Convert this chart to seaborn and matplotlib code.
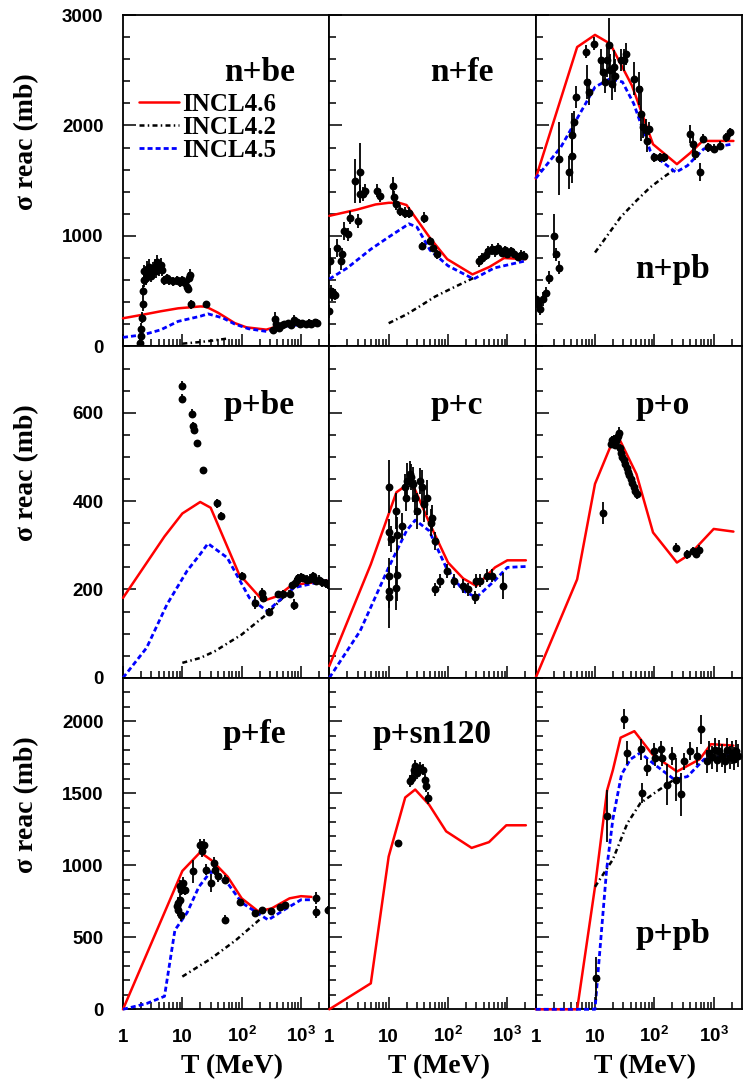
import matplotlib
matplotlib.use("Agg")
import matplotlib.pyplot as plt
from matplotlib.lines import Line2D
from matplotlib.ticker import FixedLocator, FixedFormatter, MultipleLocator, NullFormatter
import seaborn as sns

# ---------------------------------------------------------------- data
# Reaction cross sections (mb) vs kinetic energy T (MeV)

# n + Be
nbe_T = [1.95, 2.0, 2.05, 2.1, 2.15, 2.2, 2.25, 2.3, 2.4, 2.5, 2.6, 2.7, 2.8, 3.0, 3.2, 3.4, 3.6, 3.8,
         4.0, 4.3, 4.6, 5.0, 5.5, 6.0, 7.0, 8.0, 9.0, 10.0, 11.0, 12.0, 12.5, 13.0, 13.5, 14.0, 25.0,
         340, 360, 380, 420, 470, 520, 600, 680, 760, 850, 950, 1050, 1200, 1350, 1500, 1700, 1850]
nbe_sig = [30, 90, 160, 260, 380, 500, 600, 680, 620, 700, 650, 720, 680, 640, 700, 720, 680, 760,
           700, 740, 690, 600, 620, 600, 590, 600, 580, 600, 570, 540, 520, 620, 650, 380, 380,
           150, 250, 200, 170, 190, 200, 210, 190, 240, 220, 200, 210, 200, 215, 205, 220, 215]
nbe_err = [40, 40, 50, 50, 60, 60, 60, 60, 60, 70, 60, 70, 60, 60, 60, 70, 60, 70,
           60, 60, 50, 40, 40, 40, 40, 40, 40, 40, 40, 40, 40, 50, 50, 40, 30,
           30, 60, 30, 30, 30, 30, 30, 30, 40, 30, 30, 30, 30, 30, 30, 30, 30]
nbe_46_T = [1, 2.2, 4.3, 8.5, 20, 25, 40, 76, 120, 260, 400, 800, 1850]
nbe_46 = [255, 288, 318, 345, 362, 360, 305, 212, 173, 152, 182, 205, 212]
nbe_42_T = [10, 20, 35, 55]
nbe_42 = [25, 40, 55, 70]
nbe_45_T = [1, 2.2, 4.3, 8.5, 20, 27, 48, 76, 130, 260, 490, 1850]
nbe_45 = [82, 106, 150, 227, 273, 295, 258, 203, 160, 136, 182, 210]

# n + Fe
nfe_T = [1.0, 1.02, 1.05, 1.1, 1.15, 1.25, 1.35, 1.55, 1.65, 1.8, 2.05, 2.2, 2.75, 3.0, 3.3, 3.35,
         3.7, 4.0, 6.3, 7.2, 12.0, 12.3, 13.5, 15.3, 18.9, 22.0, 37.0, 40.0, 49.0, 56.0, 64.0,
         330, 380, 430, 480, 550, 620, 700, 800, 900, 1000, 1150, 1300, 1500, 1700, 1900]
nfe_sig = [318, 773, 500, 470, 480, 470, 894, 773, 833, 1045, 1015, 1167, 1500, 1136, 1575, 1380,
           1380, 1410, 1410, 1364, 1455, 1350, 1288, 1227, 1212, 1212, 909, 1167, 955, 894, 833,
           770, 800, 830, 860, 880, 860, 890, 850, 870, 840, 860, 840, 810, 830, 820]
nfe_err = [60, 120, 60, 60, 50, 50, 80, 80, 60, 80, 60, 60, 200, 60, 270, 80,
           60, 60, 60, 60, 80, 60, 50, 50, 50, 50, 40, 50, 40, 40, 40,
           50, 50, 50, 50, 50, 50, 50, 40, 40, 40, 40, 40, 40, 40, 40]
nfe_46_T = [1, 3, 6, 10, 15, 20, 28, 50, 97, 258, 500, 880, 2050]
nfe_46 = [1182, 1240, 1285, 1300, 1300, 1280, 1170, 980, 790, 652, 720, 800, 790]
nfe_42_T = [10, 20, 35, 60, 120, 270]
nfe_42 = [210, 290, 370, 450, 530, 620]
nfe_45_T = [1, 2, 5, 10, 22, 30, 50, 100, 270, 600, 2050]
nfe_45 = [610, 710, 880, 990, 1110, 1080, 870, 730, 610, 710, 775]

# n + Pb
npb_T = [1.0, 1.1, 1.2, 1.35, 1.5, 1.7, 2.0, 2.2, 2.5, 2.5, 3.6, 4.1, 4.1, 4.4, 4.7, 7.0, 7.4,
         7.9, 9.8, 12.5, 13.5, 15.0, 16.0, 17.0, 18.0, 19.5, 21.0, 22.0, 27.0, 31.0, 33.0, 45.0,
         55.0, 60.0, 64.0, 71.0, 75.0, 80.0, 100, 126, 145, 400, 450, 480, 580, 650, 790, 1000,
         1300, 1600, 1850]
npb_sig = [430, 380, 340, 430, 480, 621, 1000, 833, 712, 1697, 1576, 1727, 1910, 2030, 2257, 2667,
           2394, 2303, 2742, 2591, 2485, 2394, 2591, 2727, 2500, 2379, 2530, 2450, 2590, 2590,
           2650, 2424, 2333, 2106, 1985, 1955, 1864, 1970, 1712, 1712, 1712, 1924, 1833, 1743,
           1576, 1879, 1803, 1788, 1818, 1894, 1939]
npb_err = [60, 60, 60, 60, 60, 60, 200, 60, 60, 330, 150, 250, 200, 100, 100, 60, 150, 120, 60,
           100, 100, 100, 150, 250, 150, 150, 150, 150, 100, 100, 100, 150, 150, 250, 100, 100,
           100, 60, 40, 40, 40, 80, 100, 60, 80, 40, 40, 40, 40, 40, 40]
npb_46_T = [1, 5, 10, 18, 42, 95, 240, 400, 650, 2150]
npb_46 = [1520, 2710, 2820, 2740, 2360, 1830, 1650, 1750, 1860, 1860]
npb_42_T = [10, 27, 50, 85, 150, 230]
npb_42 = [850, 1170, 1320, 1440, 1540, 1610]
npb_45_T = [1, 2.65, 10, 18, 29, 45, 85, 100, 230, 360, 680, 2150]
npb_45 = [1520, 1803, 2348, 2424, 2394, 2197, 1773, 1727, 1576, 1636, 1788, 1833]

# p + Be
pbe_T = [10, 10, 14.5, 15, 15.5, 17.5, 22.5, 38, 45, 100, 168, 218, 230, 294, 410, 500, 640,
         700, 760, 800, 850, 900, 1000, 1100, 1250, 1400, 1600, 1800, 2000, 2300, 2600, 2900]
pbe_sig = [661, 632, 598, 569, 561, 531, 470, 395, 367, 231, 170, 193, 181, 150, 189, 190, 190,
           210, 166, 215, 222, 225, 228, 226, 222, 224, 230, 220, 222, 216, 214, 212]
pbe_err = [10, 10, 10, 10, 10, 8, 8, 10, 8, 8, 15, 10, 10, 8, 8, 8, 8,
           8, 12, 10, 10, 10, 10, 10, 10, 10, 10, 10, 10, 10, 10, 10]
pbe_46_T = [1, 5, 10, 20, 30, 90, 230, 400, 700, 3000]
pbe_46 = [181, 320, 372, 398, 385, 235, 174, 185, 210, 220]
pbe_42_T = [10, 20, 35, 100, 270, 640]
pbe_42 = [34, 45, 60, 98, 145, 197]
pbe_45_T = [1, 2.5, 5.5, 12, 20, 27, 57, 135, 270, 760, 3000]
pbe_45 = [0, 68, 166, 242, 280, 304, 272, 181, 151, 204, 222]

# p + C
pc_T = [10, 10, 10.9, 10, 10, 10, 13.4, 13.8, 14, 13.4, 16.7, 18.8, 19.5, 20.7, 23, 24, 26, 28,
        30, 34, 36, 39, 44, 51, 54, 61, 61, 74, 95, 125, 180, 215, 280, 300, 340, 450, 560, 850]
pc_sig = [433, 329, 314, 231, 197, 182, 378, 323, 233, 203, 344, 431, 408, 446, 461, 455, 438,
          408, 378, 446, 431, 393, 408, 351, 362, 310, 200, 219, 242, 219, 208, 200, 182, 219,
          220, 231, 231, 208]
pc_err = [60, 30, 30, 40, 40, 70, 40, 40, 60, 50, 30, 30, 30, 40, 30, 30, 40, 40, 40, 30, 40,
          40, 40, 30, 30, 20, 15, 15, 15, 15, 15, 15, 15, 15, 15, 15, 15, 30]
pc_46_T = [1, 5, 13.5, 22, 28, 48, 100, 180, 300, 620, 1000, 2050]
pc_46 = [27, 257, 420, 440, 425, 352, 261, 225, 208, 250, 266, 266]
pc_45_T = [1, 3.3, 10, 20, 28, 48, 93, 180, 300, 600, 1000, 2050]
pc_45 = [0, 106, 250, 333, 357, 333, 250, 197, 182, 219, 250, 252]

# p + O
po_T = [13.8, 18.3, 19.5, 20.5, 21.5, 22.5, 23.5, 24.5, 25, 26, 27.5, 29, 30.5, 32, 34, 36, 38,
        40, 42, 45, 48, 51, 228, 350, 455, 500, 570]
po_sig = [373, 530, 538, 540, 528, 535, 542, 548, 555, 520, 508, 500, 492, 485, 475, 466, 458,
          450, 440, 432, 422, 415, 295, 280, 287, 281, 290]
po_err = [25, 10, 10, 10, 10, 10, 10, 10, 12, 10, 10, 10, 10, 10, 10, 10, 10,
          10, 10, 10, 10, 10, 10, 10, 10, 10, 10]
po_46_T = [1, 5, 10, 18, 25, 50, 95, 240, 400, 1000, 2150]
po_46 = [0, 223, 439, 522, 544, 461, 329, 261, 280, 337, 331]

# p + Fe
pfe_T = [8.0, 8.5, 8.5, 9.0, 9.0, 9.5, 9.5, 10.3, 10.9, 14.9, 19.8, 21.3, 21.6, 23.4, 24.7, 30.1,
         33.9, 36.0, 40.6, 52.0, 52.0, 93.0, 166, 216, 318, 438, 532, 1820, 1820, 2800]
pfe_sig = [715, 737, 690, 760, 855, 830, 655, 876, 830, 957, 1143, 1130, 1098, 1143, 969, 876,
           1015, 969, 922, 899, 621, 748, 667, 690, 679, 713, 725, 774, 677, 690]
pfe_err = [40, 40, 40, 40, 40, 40, 40, 40, 40, 80, 40, 40, 40, 40, 40, 60,
           40, 40, 40, 30, 30, 20, 20, 20, 20, 20, 20, 40, 40, 30]
pfe_46_T = [1, 10, 20, 32, 58, 100, 190, 320, 640, 1000, 1500]
pfe_46 = [0, 960, 1090, 1030, 920, 770, 680, 700, 770, 785, 780]
pfe_42_T = [10, 30, 80, 210]
pfe_42 = [227, 350, 480, 630]
pfe_45_T = [1, 2.5, 5, 7.5, 12, 19, 30, 58, 100, 280, 520, 1000, 1500]
pfe_45 = [0, 40, 90, 550, 670, 850, 955, 875, 740, 620, 690, 760, 760]

# p + Sn120
psn_T = [14.3, 22.5, 24.6, 26.7, 28.3, 30.0, 33.7, 38.0, 40.5, 43.0, 45.7]
psn_sig = [1154, 1583, 1606, 1664, 1690, 1640, 1675, 1664, 1594, 1548, 1467]
psn_err = [20, 40, 40, 40, 40, 40, 40, 40, 40, 40, 40]
psn_46_T = [1, 5, 10, 19, 28, 48, 93, 250, 490, 960, 2050]
psn_46 = [0, 180, 1060, 1470, 1525, 1420, 1235, 1120, 1160, 1277, 1277]

# p + Pb
ppb_T = [10.2, 16.1, 30.7, 34.9, 58.6, 61.3, 75.9, 98, 102, 127, 133, 165, 200, 228, 277, 314,
         406, 529, 600, 780, 850, 950, 1050, 1150, 1250, 1400, 1550, 1700, 1850, 2000, 2200,
         2400, 2600]
ppb_sig = [216, 1340, 2012, 1780, 1803, 1502, 1676, 1791, 1745, 1803, 1745, 1560, 1757, 1594,
           1491, 1722, 1792, 1757, 1943, 1720, 1780, 1750, 1800, 1730, 1790, 1760, 1720, 1800,
           1750, 1780, 1740, 1790, 1760]
ppb_err = [150, 180, 70, 80, 70, 70, 60, 60, 60, 60, 60, 140, 60, 150, 150, 60, 60, 60, 100,
           80, 80, 80, 80, 80, 80, 80, 80, 80, 80, 80, 80, 80, 80]
ppb_46_T = [1, 5, 10, 16, 20, 27, 46, 92, 240, 580, 900, 2150]
ppb_46 = [0, 0, 850, 1520, 1660, 1885, 1930, 1770, 1650, 1735, 1840, 1830]
ppb_42_T = [10, 20, 35, 58, 100, 217]
ppb_42 = [850, 1040, 1290, 1430, 1500, 1595]
ppb_45_T = [1, 10, 12.9, 15.7, 20, 28, 39.5, 58, 100, 217, 360, 690, 2150]
ppb_45 = [0, 0, 550, 970, 1320, 1630, 1735, 1780, 1700, 1595, 1615, 1735, 1770]

model_names = ["INCL4.6", "INCL4.2", "INCL4.5"]
x_tick_values = [1, 10, 100, 1000]
x_tick_labels = ["1", "10", r"$10^{2}$", r"$10^{3}$"]
row_ymax = [3000, 750, 2300]
row_major = [1000, 200, 500]
row_minor = [200, 50, 100]

# ---------------------------------------------------------------- style
sns.set_theme(style="ticks")
plt.rcParams.update({
    "font.family": ["Liberation Sans", "DejaVu Sans"],
    "font.weight": "bold",
    "mathtext.fontset": "custom",
    "mathtext.rm": "Liberation Sans:bold",
    "mathtext.it": "Liberation Sans:bold",
    "mathtext.bf": "Liberation Sans:bold",
    "axes.edgecolor": "black",
    "axes.linewidth": 1.3,
    "text.color": "black",
    "axes.labelcolor": "black",
    "xtick.color": "black",
    "ytick.color": "black",
})
SERIF = ["Liberation Serif", "DejaVu Serif"]

styles = {
    "INCL4.6": dict(color="#ff0000", linewidth=1.8, linestyle="-"),
    "INCL4.2": dict(color="black", linewidth=1.8, linestyle=(0, (2.0, 1.3, 0.6, 1.3))),
    "INCL4.5": dict(color="#0000ff", linewidth=2.0, linestyle=(0, (1.8, 1.1))),
}

panels = [
    dict(name="n+be", pos=(0, 0), data=(nbe_T, nbe_sig, nbe_err), lab=(0.834, 0.80),
         curves={"INCL4.6": (nbe_46_T, nbe_46), "INCL4.2": (nbe_42_T, nbe_42),
                 "INCL4.5": (nbe_45_T, nbe_45)}),
    dict(name="n+fe", pos=(0, 1), data=(nfe_T, nfe_sig, nfe_err), lab=(0.795, 0.80),
         curves={"INCL4.6": (nfe_46_T, nfe_46), "INCL4.2": (nfe_42_T, nfe_42),
                 "INCL4.5": (nfe_45_T, nfe_45)}),
    dict(name="n+pb", pos=(0, 2), data=(npb_T, npb_sig, npb_err), lab=(0.846, 0.207),
         curves={"INCL4.6": (npb_46_T, npb_46), "INCL4.2": (npb_42_T, npb_42),
                 "INCL4.5": (npb_45_T, npb_45)}),
    dict(name="p+be", pos=(1, 0), data=(pbe_T, pbe_sig, pbe_err), lab=(0.834, 0.797),
         curves={"INCL4.6": (pbe_46_T, pbe_46), "INCL4.2": (pbe_42_T, pbe_42),
                 "INCL4.5": (pbe_45_T, pbe_45)}),
    dict(name="p+c", pos=(1, 1), data=(pc_T, pc_sig, pc_err), lab=(0.745, 0.797),
         curves={"INCL4.6": (pc_46_T, pc_46), "INCL4.5": (pc_45_T, pc_45)}),
    dict(name="p+o", pos=(1, 2), data=(po_T, po_sig, po_err), lab=(0.749, 0.797),
         curves={"INCL4.6": (po_46_T, po_46)}),
    dict(name="p+fe", pos=(2, 0), data=(pfe_T, pfe_sig, pfe_err), lab=(0.793, 0.803),
         curves={"INCL4.6": (pfe_46_T, pfe_46), "INCL4.2": (pfe_42_T, pfe_42),
                 "INCL4.5": (pfe_45_T, pfe_45)}),
    dict(name="p+sn120", pos=(2, 1), data=(psn_T, psn_sig, psn_err), lab=(0.787, 0.803),
         curves={"INCL4.6": (psn_46_T, psn_46)}),
    dict(name="p+pb", pos=(2, 2), data=(ppb_T, ppb_sig, ppb_err), lab=(0.846, 0.199),
         curves={"INCL4.6": (ppb_46_T, ppb_46), "INCL4.2": (ppb_42_T, ppb_42),
                 "INCL4.5": (ppb_45_T, ppb_45)}),
]

# ---------------------------------------------------------------- figure
fig, axes = plt.subplots(3, 3, figsize=(7.43, 10.82), dpi=100)
fig.subplots_adjust(left=123 / 743, right=742 / 743, top=1 - 15 / 1082,
                    bottom=1 - 1009.3 / 1082, wspace=0, hspace=0)

minor_x = [k * 10 ** d for d in range(4) for k in range(2, 10) if k * 10 ** d < 3000]

for p in panels:
    r, c = p["pos"]
    ax = axes[r, c]
    ax.set_xscale("log")

    for model in model_names:
        if model in p["curves"]:
            xs, ys = p["curves"][model]
            sns.lineplot(x=xs, y=ys, ax=ax, sort=False, estimator=None, zorder=3,
                         clip_on=False, **styles[model])

    T, sig, err = p["data"]
    ax.errorbar(T, sig, yerr=err, fmt="none", ecolor="black", elinewidth=1.3,
                capsize=0, zorder=4)
    sns.scatterplot(x=T, y=sig, ax=ax, color="black", s=32, linewidth=0, zorder=5)

    ax.set_xlim(1, 3000)
    ax.set_ylim(0, row_ymax[r])

    ax.xaxis.set_major_locator(FixedLocator(x_tick_values))
    ax.xaxis.set_minor_locator(FixedLocator(minor_x))
    ax.xaxis.set_minor_formatter(NullFormatter())
    if r == 2:
        ax.xaxis.set_major_formatter(FixedFormatter(x_tick_labels))
    else:
        ax.xaxis.set_major_formatter(NullFormatter())
    ax.yaxis.set_major_locator(MultipleLocator(row_major[r]))
    ax.yaxis.set_minor_locator(MultipleLocator(row_minor[r]))
    if c != 0:
        ax.yaxis.set_major_formatter(NullFormatter())

    ax.tick_params(which="both", direction="in", top=False, right=False,
                   bottom=True, left=True, width=1.1, labelsize=13.5)
    ax.tick_params(which="major", length=9)
    ax.tick_params(which="minor", length=5)
    ax.tick_params(axis="y", pad=14)
    ax.tick_params(axis="x", pad=23.8)
    for lbl in ax.get_xticklabels():
        lbl.set_verticalalignment("baseline")

    for s in ax.spines.values():
        s.set_visible(True)
        s.set_linewidth(1.3)
        s.set_color("black")

    ax.set_xlabel("")
    ax.set_ylabel("")
    ax.text(p["lab"][0], p["lab"][1], p["name"], transform=ax.transAxes,
            ha="right", va="baseline", fontsize=24, fontweight="bold", family=SERIF)

    if c == 0:
        ax.set_ylabel("σ reac (mb)", fontsize=20, fontweight="bold", family=SERIF,
                      loc="top")
        ax.yaxis.set_label_coords(-0.405, 0.825)
    if r == 2:
        ax.set_xlabel("T (MeV)", fontsize=20, fontweight="bold", family=SERIF)
        ax.xaxis.set_label_coords(0.53, -0.136)

# model legend inside the n+be panel
handles = [Line2D([], [], **styles[m]) for m in model_names]
axes[0, 0].legend(handles, model_names, loc="upper left", bbox_to_anchor=(0.078, 0.765),
                  frameon=False, borderpad=0, borderaxespad=0, handlelength=1.6,
                  handletextpad=0.12, labelspacing=0.0,
                  prop=dict(family=SERIF, weight="bold", size=18))

fig.savefig("out.png", dpi=100)
